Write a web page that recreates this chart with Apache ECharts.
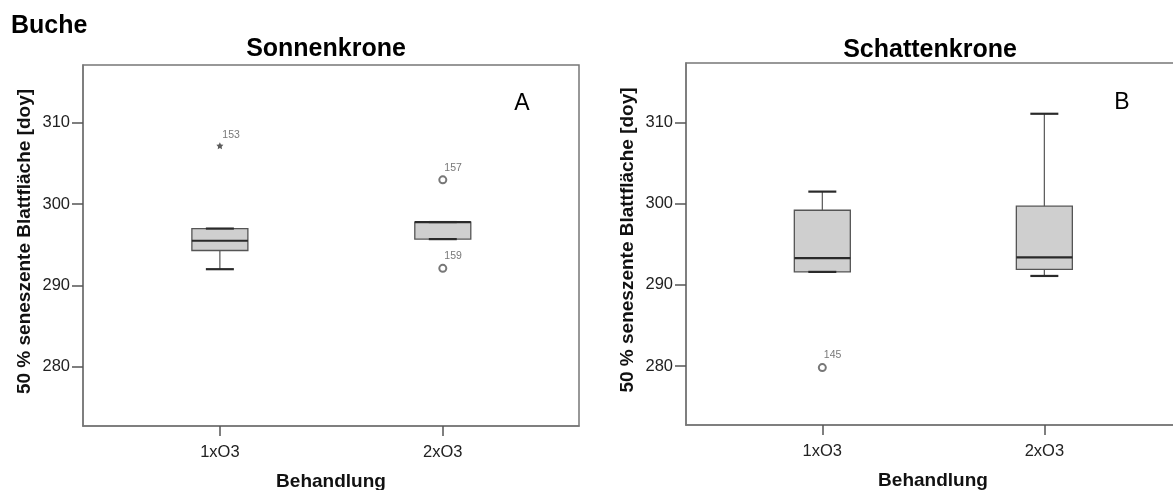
<!DOCTYPE html>
<html>
<head>
<meta charset="utf-8">
<script src="https://cdn.jsdelivr.net/npm/echarts@6/dist/echarts.min.js"></script>
<style>
  html, body { margin: 0; padding: 0; background: #fff; }
  #chart { width: 1173px; height: 490px; }
</style>
</head>
<body>
<div id="chart"></div>
<script>
const FONT = '"Liberation Sans", Arial, sans-serif'

// categories on the x axis (placed at x = 1, 2)
const categories = ['1xO3', '2xO3']
const yTicks = [280, 290, 300, 310]

// box values: [min, Q1, median, Q3, max]
const sonneBox = [
  [292.0, 294.3, 295.5, 297.0, 297.0],
  [295.7, 295.7, 297.8, 297.8, 297.8],
]
const schattenBox = [
  [291.6, 291.6, 293.3, 299.2, 301.5],
  [291.1, 291.9, 293.4, 299.7, 311.1],
]

// outliers: [category position, value]
const sonneOutliers = [[1, 307.2], [2, 303.0], [2, 292.1]]
const sonneOutlierIds = ['153', '157', '159']
const sonneOutlierExtreme = [true, false, false]
const schattenOutliers = [[1, 279.8]]
const schattenOutlierIds = ['145']
const schattenOutlierExtreme = [false]

const BOX_W = 56
const STAR = 'path://M0,-10 L2.9,-4 9.5,-3.1 4.8,1.5 5.9,8.1 0,5 -5.9,8.1 -4.8,1.5 -9.5,-3.1 -2.9,-4 Z'

function renderBox(params, api) {
  const x = api.value(0)
  const pMin = api.coord([x, api.value(1)])
  const pQ1 = api.coord([x, api.value(2)])
  const pMed = api.coord([x, api.value(3)])
  const pQ3 = api.coord([x, api.value(4)])
  const pMax = api.coord([x, api.value(5)])
  const cx = pMed[0]
  const hw = BOX_W / 2
  const cw = BOX_W / 4
  const thin = { stroke: '#555', lineWidth: 1.2 }
  const thick = { stroke: '#2a2a2a', lineWidth: 2.2 }
  return {
    type: 'group',
    children: [
      { type: 'line', shape: { x1: cx, y1: pMax[1], x2: cx, y2: pQ3[1] }, style: thin },
      { type: 'line', shape: { x1: cx, y1: pMin[1], x2: cx, y2: pQ1[1] }, style: thin },
      {
        type: 'rect',
        shape: { x: cx - hw, y: pQ3[1], width: BOX_W, height: pQ1[1] - pQ3[1] },
        style: { fill: '#cfcfcf', stroke: '#555', lineWidth: 1.3 },
      },
      { type: 'line', shape: { x1: cx - cw, y1: pMax[1], x2: cx + cw, y2: pMax[1] }, style: thick },
      { type: 'line', shape: { x1: cx - cw, y1: pMin[1], x2: cx + cw, y2: pMin[1] }, style: thick },
      { type: 'line', shape: { x1: cx - hw, y1: pMed[1], x2: cx + hw, y2: pMed[1] }, style: thick },
    ],
  }
}

function boxSeries(box, idx) {
  return {
    type: 'custom',
    xAxisIndex: idx,
    yAxisIndex: idx,
    renderItem: renderBox,
    encode: { x: 0, y: [1, 2, 3, 4, 5] },
    data: box.map((b, i) => [i + 1].concat(b)),
    silent: true,
  }
}

function outlierSeries(points, ids, extreme, idx) {
  return {
    type: 'scatter',
    xAxisIndex: idx,
    yAxisIndex: idx,
    data: points.map((p, i) => ({
      value: p,
      symbol: extreme[i] ? STAR : 'emptyCircle',
      symbolSize: 7,
      itemStyle: extreme[i] ? { color: '#333', borderWidth: 0 } : { color: '#555', borderColor: '#555', borderWidth: 1.3 },
      label: { formatter: ids[i] },
    })),
    label: {
      show: true,
      position: [6, -7.5],
      align: 'left',
      verticalAlign: 'middle',
      fontSize: 10.5,
      color: '#555',
      fontFamily: FONT,
    },
    silent: true,
  }
}

function xAxis(idx) {
  return {
    type: 'value',
    gridIndex: idx,
    min: 0.386,
    max: 2.611,
    splitLine: { show: false },
    axisLine: { show: true, lineStyle: { color: '#777', width: 1.5 } },
    axisTick: { show: true, customValues: [1, 2], length: 10, lineStyle: { color: '#555', width: 1.5 } },
    axisLabel: {
      customValues: [1, 2],
      formatter: v => categories[Math.round(v) - 1],
      fontSize: 16.5,
      color: '#222',
      margin: 18,
      fontFamily: FONT,
    },
    name: 'Behandlung',
    nameLocation: 'middle',
    nameGap: 46,
    nameTextStyle: { fontSize: 19, fontWeight: 'bold', color: '#111', fontFamily: FONT },
  }
}

function yAxis(idx, min, max) {
  return {
    type: 'value',
    gridIndex: idx,
    min: min,
    max: max,
    splitLine: { show: false },
    axisLine: { show: true, lineStyle: { color: '#777', width: 1.5 } },
    axisTick: { show: true, customValues: yTicks, length: 11, lineStyle: { color: '#555', width: 1.5 } },
    axisLabel: {
      customValues: yTicks,
      fontSize: 16.5,
      color: '#222',
      margin: 13,
      fontFamily: FONT,
    },
    name: '50 % seneszente Blattfläche [doy]',
    nameLocation: 'middle',
    nameGap: 49,
    nameTextStyle: { fontSize: 19, fontWeight: 'bold', color: '#111', fontFamily: FONT, padding: [0, 0, 0, 8] },
  }
}

function title(text, left, top, size, weight) {
  return {
    text: text,
    left: left,
    top: top,
    padding: 0,
    textAlign: 'center',
    textStyle: { fontSize: size, fontWeight: weight, color: '#000', fontFamily: FONT },
  }
}

const option = {
  animation: false,
  backgroundColor: '#fff',
  title: [
    { text: 'Buche', left: 11, top: 14, padding: 0, textStyle: { fontSize: 25, fontWeight: 'bold', color: '#000', fontFamily: FONT } },
    title('Sonnenkrone', 326, 37, 25, 'bold'),
    title('Schattenkrone', 930, 38, 25, 'bold'),
    title('A', 522, 92, 23, 'normal'),
    title('B', 1122, 91, 23, 'normal'),
  ],
  grid: [
    { left: 83, top: 65, width: 496, height: 361, show: true, borderColor: '#777', borderWidth: 1.5, outerBoundsMode: 'none' },
    { left: 686, top: 63, width: 494, height: 362, show: true, borderColor: '#777', borderWidth: 1.5, outerBoundsMode: 'none' },
  ],
  xAxis: [xAxis(0), xAxis(1)],
  yAxis: [yAxis(0, 272.7, 317.13), yAxis(1, 272.72, 317.36)],
  series: [
    boxSeries(sonneBox, 0),
    outlierSeries(sonneOutliers, sonneOutlierIds, sonneOutlierExtreme, 0),
    boxSeries(schattenBox, 1),
    outlierSeries(schattenOutliers, schattenOutlierIds, schattenOutlierExtreme, 1),
  ],
}

const chart = echarts.init(document.getElementById('chart'))
chart.setOption(option)
</script>
</body>
</html>
